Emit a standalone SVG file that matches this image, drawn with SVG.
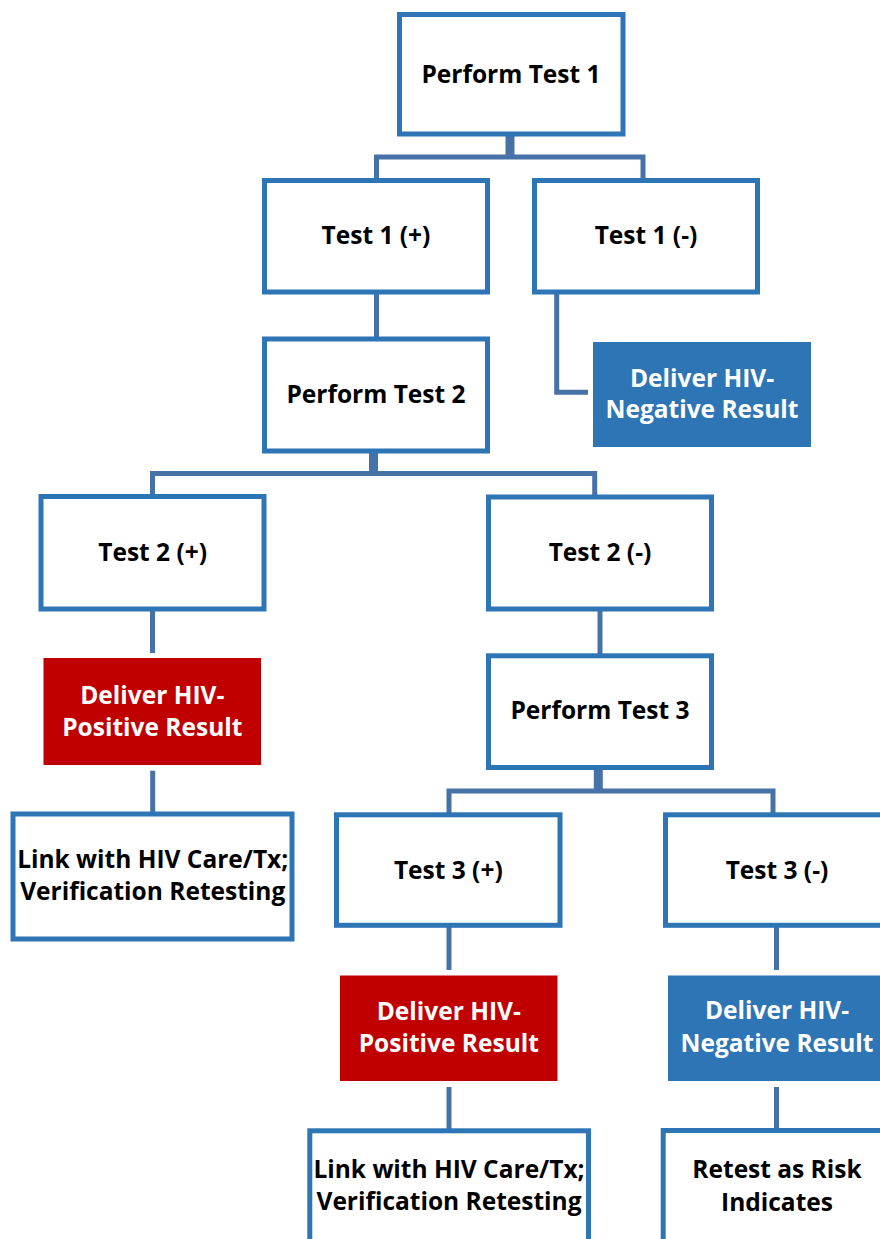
<svg xmlns="http://www.w3.org/2000/svg" width="880" height="1239" viewBox="0 0 880 1239">
<style>
.box{fill:#FFFFFF;stroke:#2E75B6;stroke-width:5}
.neg{fill:#2E75B6}
.pos{fill:#C00000}
.t{font-family:"Open Sans","Liberation Sans",sans-serif;font-weight:bold;font-size:24.5px;text-anchor:middle;fill:#000000}
.w{fill:#FFFFFF}
.c{fill:none;stroke:#4672A8;stroke-width:5}
.trunk{fill:none;stroke:#4672A8;stroke-width:9}
</style>
<rect width="880" height="1239" fill="#FFFFFF"/>
<g id="connectors">
<path class="trunk" d="M510 136 V157"/>
<path class="c" d="M376.5 180 V157 H643 V180"/>
<path class="c" d="M376.5 294 V338"/>
<path class="c" d="M556.7 294 V392.2 H588"/>
<path class="trunk" d="M373.5 453 V473.5"/>
<path class="c" d="M152.5 496 V473.5 H594.7 V496"/>
<path class="c" d="M152.5 611 V653"/>
<path class="c" d="M152.7 770.7 V813"/>
<path class="c" d="M600 611 V655"/>
<path class="trunk" d="M598.3 769 V791"/>
<path class="c" d="M449 813 V791 H773 V813"/>
<path class="c" d="M449 927 V970"/>
<path class="c" d="M449 1087 V1129"/>
<path class="c" d="M776.5 927 V970"/>
<path class="c" d="M776.5 1087 V1129"/>
</g>
<g id="perform-test-1"><rect class="box" x="399.5" y="14.5" width="223.5" height="119.5"/><text class="t" x="511" y="83">Perform Test 1</text></g>
<g id="test-1-pos"><rect class="box" x="264.5" y="180.5" width="223" height="111.5"/><text class="t" x="376" y="244">Test 1 (+)</text></g>
<g id="test-1-neg"><rect class="box" x="534.5" y="180.5" width="223" height="111.5"/><text class="t" x="646" y="244">Test 1 (-)</text></g>
<g id="perform-test-2"><rect class="box" x="264.5" y="339" width="223" height="112"/><text class="t" x="376" y="403">Perform Test 2</text></g>
<g id="deliver-neg-1"><rect class="neg" x="593" y="342" width="218" height="105"/><text class="t w" x="702" y="387">Deliver HIV-</text><text class="t w" x="702" y="418">Negative Result</text></g>
<g id="test-2-pos"><rect class="box" x="41" y="496.5" width="223" height="112.5"/><text class="t" x="152.7" y="561">Test 2 (+)</text></g>
<g id="test-2-neg"><rect class="box" x="488.5" y="497" width="223" height="112"/><text class="t" x="600" y="561">Test 2 (-)</text></g>
<g id="deliver-pos-1"><rect class="pos" x="43.5" y="658" width="217.5" height="107"/><text class="t w" x="152.3" y="704">Deliver HIV-</text><text class="t w" x="152.3" y="736">Positive Result</text></g>
<g id="perform-test-3"><rect class="box" x="488.5" y="655.8" width="223" height="111.7"/><text class="t" x="600" y="719.3">Perform Test 3</text></g>
<g id="link-care-1"><rect class="box" x="13" y="814" width="279" height="125"/><text class="t" x="152.7" y="868">Link with HIV Care/Tx;</text><text class="t" x="152.7" y="900">Verification Retesting</text></g>
<g id="test-3-pos"><rect class="box" x="336.5" y="814.8" width="223.5" height="110.5"/><text class="t" x="448.3" y="878.5">Test 3 (+)</text></g>
<g id="test-3-neg"><rect class="box" x="665.5" y="814.8" width="223" height="110.5"/><text class="t" x="777" y="878.5">Test 3 (-)</text></g>
<g id="deliver-pos-2"><rect class="pos" x="340" y="975.5" width="217.5" height="105.5"/><text class="t w" x="448.8" y="1020">Deliver HIV-</text><text class="t w" x="448.8" y="1051.7">Positive Result</text></g>
<g id="deliver-neg-2"><rect class="neg" x="668" y="975.5" width="218" height="105.5"/><text class="t w" x="777" y="1019">Deliver HIV-</text><text class="t w" x="777" y="1051.7">Negative Result</text></g>
<g id="link-care-2"><rect class="box" x="309.8" y="1130.8" width="278.7" height="125"/><text class="t" x="449" y="1178.3">Link with HIV Care/Tx;</text><text class="t" x="449" y="1210">Verification Retesting</text></g>
<g id="retest"><rect class="box" x="663.2" y="1130.5" width="228" height="125"/><text class="t" x="777" y="1177.7">Retest as Risk</text><text class="t" x="777" y="1211">Indicates</text></g>
</svg>
